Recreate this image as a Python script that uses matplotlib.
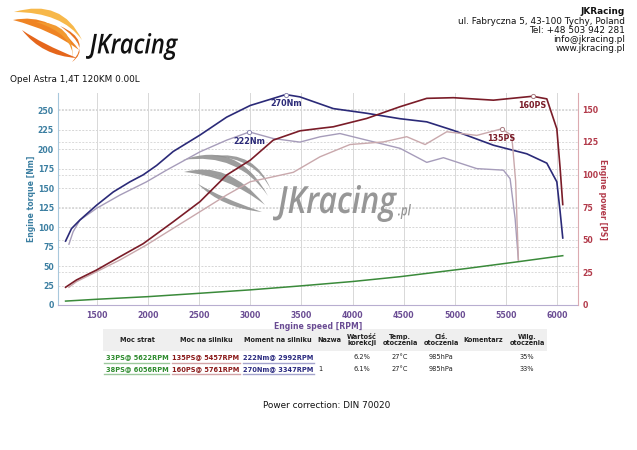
import matplotlib
matplotlib.use("Agg")
import matplotlib.pyplot as plt
from matplotlib.path import Path
from matplotlib.patches import PathPatch, Rectangle
from matplotlib.textpath import TextPath
from matplotlib.font_manager import FontProperties
from matplotlib.transforms import Affine2D, blended_transform_factory

# ---- data read from the dyno sheet ----
rpm_tq_tuned = [1194, 1252, 1334, 1497, 1660, 1823, 1953, 2084, 2247, 2508, 2769, 3000,
                3347, 3486, 3812, 4139, 4465, 4726, 4987, 5378, 5704, 5900, 5998, 6030, 6056]
tq_tuned = [82, 98, 109, 128, 145, 158, 167, 179, 197, 218, 241, 256,
            270, 267, 252, 246, 239, 235, 224, 205, 194, 182, 158, 120, 86]

rpm_pw_tuned = [1194, 1301, 1497, 1725, 1953, 2247, 2508, 2769, 3000, 3225, 3486, 3682,
                3812, 4139, 4465, 4726, 4987, 5378, 5761, 5900, 5998, 6030, 6056]
pw_tuned = [13.6, 19.2, 26.8, 37, 47, 63.8, 79.2, 99.6, 111, 126.4, 133.5, 135.4,
            136.6, 143, 152, 158.4, 158.9, 157, 160, 158, 135, 105, 77]

rpm_tq_stock = [1227, 1268, 1334, 1497, 1725, 1985, 2181, 2508, 2769, 2992, 3225, 3486,
                3682, 3877, 4139, 4465, 4726, 4889, 5215, 5476, 5541, 5590, 5622]
tq_stock = [78, 94, 109, 124, 141, 158, 173, 196.5, 211.5, 222, 213.6, 209,
            215.8, 220, 211.5, 201, 183, 189, 175, 173, 162, 111, 58]

rpm_pw_stock = [1227, 1301, 1497, 1725, 1985, 2247, 2508, 2769, 3000, 3225, 3421, 3682,
                3975, 4302, 4530, 4710, 4922, 5215, 5457, 5557, 5595, 5622]
pw_stock = [13.6, 17.9, 25.5, 34.5, 46, 58.8, 71.5, 84.3, 94.5, 98.3, 101.7, 113.6,
            123, 125, 129, 123, 132.8, 130, 135, 130, 95, 34.5]

rpm_loss = [1194, 1500, 2000, 2508, 3000, 3486, 4000, 4465, 5117, 5622, 6056]
pw_loss = [3, 4.4, 6.4, 9, 11.6, 14.6, 18, 21.7, 28, 33.2, 37.8]

peaks = [("270Nm", 3347, 270, "tq", "#2b2a78"),
         ("222Nm", 2992, 222, "tq", "#2b2a78"),
         ("160PS", 5761, 160, "pw", "#7a1c28"),
         ("135PS", 5457, 135, "pw", "#7a1c28")]

header_lines = ["JKRacing", "ul. Fabryczna 5, 43-100 Tychy, Poland", "Tel: +48 503 942 281",
                "info@jkracing.pl", "www.jkracing.pl"]
car_title = "Opel Astra 1,4T 120KM 0.00L"

table_cols = ["Moc strat", "Moc na silniku", "Moment na silniku", "Nazwa", "Wartość\nkorekcji",
              "Temp.\notoczenia", "Ciś.\notoczenia", "Komentarz", "Wilg.\notoczenia"]
table_rows = [["33PS@ 5622RPM", "135PS@ 5457RPM", "222Nm@ 2992RPM", "", "6.2%", "27°C", "985hPa", "", "35%"],
              ["38PS@ 6056RPM", "160PS@ 5761RPM", "270Nm@ 3347RPM", "1", "6.1%", "27°C", "985hPa", "", "33%"]]

C_TQ = "#2b2a78"
C_PW = "#7a1c28"
C_TQ0 = "#a69cba"
C_PW0 = "#c9a8ac"
C_LOSS = "#3a8a3a"

fig = plt.figure(figsize=(6.37, 4.5), dpi=100)
bg = fig.add_axes([0, 0, 1, 1])
bg.set_xlim(0, 637)
bg.set_ylim(450, 0)
bg.axis("off")

ax = fig.add_axes([58 / 637, 145 / 450, 520 / 637, 212 / 450])
ax2 = ax.twinx()
ax.set_xlim(1120, 6205)
ax.set_ylim(0, 272)
ax2.set_ylim(0, 162.5)


def swoosh(p0, c, p1, w, color, target, tr, z=1.2, alpha=1.0):
    # tapered crescent between two quadratic curves, max thickness ~ w/2
    c2 = (c[0], c[1] + w)
    verts = [p0, c, p1, c2, p0, p0]
    codes = [Path.MOVETO, Path.CURVE3, Path.CURVE3, Path.CURVE3, Path.CURVE3, Path.CLOSEPOLY]
    target.add_patch(PathPatch(Path(verts, codes), fc=color, ec="none", transform=tr,
                               zorder=z, alpha=alpha, clip_on=False))


def fit_text(s, x0, x1, y0, y1, color, target, tr, z=1.2, alpha=1.0, style="italic"):
    fp = FontProperties(family="Open Sans", style=style, weight="semibold")
    tp = TextPath((0, 0), s, size=10, prop=fp)
    ext = tp.get_extents()
    sx = (x1 - x0) / ext.width
    sy = (y1 - y0) / ext.height
    t = Affine2D().translate(-ext.x0, -ext.y1).scale(sx, -sy).translate(x0, y0)
    target.add_patch(PathPatch(tp, fc=color, ec="none", transform=t + tr, zorder=z,
                               alpha=alpha, clip_on=False))


# ---- top logo ----
swoosh((14, 12), (62, -2), (82, 40), 14, "#f7b84a", bg, bg.transData)
swoosh((13, 20), (52, 12), (79, 50), 18, "#ef8424", bg, bg.transData)
swoosh((22, 30), (42, 44), (77, 58), 12, "#e5661b", bg, bg.transData)
swoosh((36, 22), (74, 22), (73, 60), 12, "#f29a30", bg, bg.transData)
swoosh((60, 26), (92, 40), (72, 62), 8, "#e87420", bg, bg.transData)
fit_text("JKracing", 86, 178, 33, 60, "#111111", bg, bg.transData)

# ---- watermark ----
wm = bg.transData
G = "#8c8c8c"
swoosh((183, 160), (238, 140), (268, 196), 12, G, ax, wm, alpha=0.85)
swoosh((184, 172), (228, 160), (265, 205), 16, G, ax, wm, alpha=0.85)
swoosh((198, 184), (222, 198), (262, 212), 10, G, ax, wm, alpha=0.85)
swoosh((212, 156), (256, 150), (271, 190), 8, G, ax, wm, alpha=0.85)
fit_text("JKracing", 273, 397, 185, 222, G, ax, wm, alpha=0.9)
fit_text(".pl", 398, 411, 204, 219, G, ax, wm, alpha=0.9)

# ---- header texts ----
for i, line in enumerate(header_lines):
    bg.text(625, 12 + i * 9.2, line, ha="right", va="center", fontsize=6.4,
            fontweight="bold" if i == 0 else "normal", color="#111111")
bg.text(10, 80, car_title, ha="left", va="center", fontsize=6.4, color="#111111")

# ---- grids ----
ax.set_axisbelow(True)
ax.set_xticks(range(1500, 6001, 500))
ax.set_yticks(range(0, 251, 25))
ax2.set_yticks(range(0, 151, 25))
ax.grid(axis="x", color="#d8d8d8", lw=0.7)
ax.grid(axis="y", color="#d6d6d6", lw=0.7, ls=(0, (2, 1.5)))
blend = blended_transform_factory(ax.transAxes, ax2.transData)
ax.hlines(range(25, 151, 25), 0, 1, transform=blend, colors="#dadada", lw=0.7,
          linestyles=(0, (2, 1.5)), zorder=0.6)

# ---- curves ----
ax.plot(rpm_tq_stock, tq_stock, color=C_TQ0, lw=1.0, zorder=2)
ax2.plot(rpm_pw_stock, pw_stock, color=C_PW0, lw=1.0, zorder=2)
ax2.plot(rpm_loss, pw_loss, color=C_LOSS, lw=1.1, zorder=2)
ax.plot(rpm_tq_tuned, tq_tuned, color=C_TQ, lw=1.2, zorder=3)
ax2.plot(rpm_pw_tuned, pw_tuned, color=C_PW, lw=1.2, zorder=3)

for label, r, v, kind, col in peaks:
    a = ax if kind == "tq" else ax2
    mcol = "#8a86b0" if kind == "tq" else "#a87a80"
    a.plot([r], [v], marker="o", ms=3, mfc="white", mec=mcol, mew=0.7, zorder=4)
    a.annotate(label, (r, v), xytext=(0, -3.5), textcoords="offset points", ha="center",
               va="top", fontsize=5.8, fontweight="bold", color=col, zorder=5)

# ---- axes styling ----
C_LEFT = "#3b7ea1"
C_BOT = "#6a4c93"
C_RIGHT = "#b23a4a"
for a in (ax, ax2):
    a.spines["top"].set_visible(False)
ax.spines["left"].set_color("#a8c8dc")
ax.spines["bottom"].set_color("#b8aed0")
ax.spines["right"].set_visible(False)
ax2.spines["left"].set_visible(False)
ax2.spines["bottom"].set_visible(False)
ax2.spines["right"].set_color("#dcaab0")
ax.tick_params(axis="y", length=0, pad=3, labelsize=5.6, labelcolor=C_LEFT)
ax.tick_params(axis="x", length=0, pad=4, labelsize=5.6, labelcolor=C_BOT)
ax2.tick_params(axis="y", length=0, pad=3, labelsize=5.6, labelcolor=C_RIGHT)
for t in ax.get_xticklabels() + ax.get_yticklabels() + ax2.get_yticklabels():
    t.set_fontweight("bold")
ax.set_ylabel("Engine torque [Nm]", fontsize=5.6, fontweight="bold", color=C_LEFT, labelpad=1)
ax.set_xlabel("Engine speed [RPM]", fontsize=5.6, fontweight="bold", color=C_BOT, labelpad=2)
ax2.set_ylabel("Engine power [PS]", fontsize=5.6, fontweight="bold", color=C_RIGHT,
               rotation=270, labelpad=6)

# ---- results table ----
col_x = [137, 206, 278, 329, 362, 400, 441, 483, 527]
bg.add_patch(Rectangle((103, 329), 444, 22, fc="#efefef", ec="none"))
for x, name in zip(col_x, table_cols):
    bg.text(x, 340, name, ha="center", va="center", fontsize=4.7, fontweight="bold",
            color="#222222", linespacing=1.05)
row_colors = ["#2e8b2e", "#8b1a1a", "#2a2a80"]
line_colors = ["#9cc89c", "#d2a4a8", "#a4a4cc"]
spans = [(104, 169), (172, 240), (243, 314)]
for r, row in enumerate(table_rows):
    y = 357 + r * 11.8
    for c, val in enumerate(row):
        if c < 3:
            bg.text(col_x[c], y, val, ha="center", va="center", fontsize=4.8,
                    fontweight="bold", color=row_colors[c])
            bg.plot(spans[c], [y + 5.5, y + 5.5], color=line_colors[c], lw=1.0)
        elif c == 3:
            bg.text(318, y, val, ha="left", va="center", fontsize=4.8, color="#222222")
        else:
            bg.text(col_x[c], y, val, ha="center", va="center", fontsize=4.8, color="#222222")

bg.text(263, 405, "Power correction: DIN 70020", ha="left", va="center", fontsize=6.4,
        color="#111111")

fig.savefig("out.png", dpi=100)
